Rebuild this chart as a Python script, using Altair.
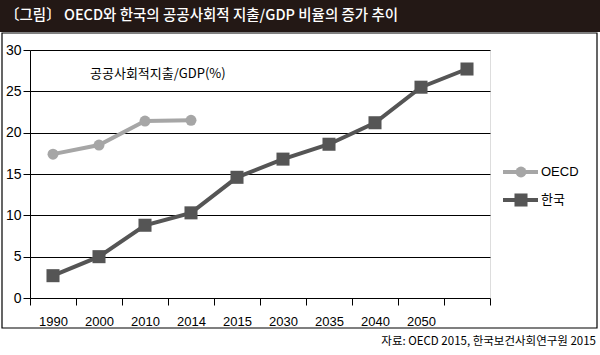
import altair as alt
import pandas as pd

years = ["1990", "2000", "2010", "2014", "2015", "2030", "2035", "2040", "2050", " "]
korea = [2.7, 5.0, 8.8, 10.3, 14.6, 16.8, 18.6, 21.2, 25.5, 27.7]
oecd_years = ["1990", "2000", "2010", "2014"]
oecd = [17.4, 18.5, 21.4, 21.5]
series_names = ["OECD", "한국"]
series_colors = ["#a6a6a6", "#555555"]

title_text = "〔그림〕 OECD와 한국의 공공사회적 지출/GDP 비율의 증가 추이"
annot_text = "공공사회적지출/GDP(%)"
source_text = "자료: OECD 2015, 한국보건사회연구원 2015"

rows = [{"year": y, "value": v, "series": "한국"} for y, v in zip(years, korea)]
rows += [{"year": y, "value": v, "series": "OECD"} for y, v in zip(oecd_years, oecd)]
df = pd.DataFrame(rows)
one = pd.DataFrame({"a": [0]})

KFONT = "Noto Sans CJK KR"
LFONT = "Liberation Sans"

x_enc = alt.X(
    "year:N",
    sort=years,
    scale=alt.Scale(type="band", domain=years, paddingInner=0, paddingOuter=0),
    axis=alt.Axis(
        title=None, domain=False, tickBand="extent", tickSize=7, tickColor="black",
        labelFontSize=13, labelFont=LFONT, labelPadding=10, labelAngle=0,
        labelColor="black", grid=False,
    ),
)
y_enc = alt.Y(
    "value:Q",
    scale=alt.Scale(domain=[0, 30]),
    axis=alt.Axis(
        values=[0, 5, 10, 15, 20, 25, 30], grid=True, gridColor="black", gridWidth=1,
        domainColor="black", tickColor="black", tickSize=7, labelFontSize=14,
        labelFont=LFONT, labelColor="black", labelPadding=2, title=None,
    ),
)
color_enc = alt.Color("series:N", scale=alt.Scale(domain=series_names, range=series_colors), legend=None)

base = alt.Chart(df)
lines = base.mark_line(strokeWidth=4).encode(x=x_enc, y=y_enc, color=color_enc)
points = base.mark_point(filled=True, opacity=1).encode(
    x=x_enc, y=y_enc, color=color_enc,
    shape=alt.Shape("series:N", scale=alt.Scale(domain=series_names, range=["circle", "square"]), legend=None),
    size=alt.Size("series:N", scale=alt.Scale(domain=series_names, range=[120, 170]), legend=None),
)

title_bar = alt.Chart(one).mark_rect(color="#231815").encode(
    x=alt.value(-30), x2=alt.value(570), y=alt.value(-50), y2=alt.value(-18)
)
title_txt = alt.Chart(one).mark_text(
    align="left", baseline="middle", color="white", font=KFONT, fontSize=14.5, fontWeight=500
).encode(x=alt.value(-25), y=alt.value(-34), text=alt.value(title_text))
border = alt.Chart(one).mark_rect(fillOpacity=0, stroke="black", strokeWidth=1.2).encode(
    x=alt.value(-28), x2=alt.value(567), y=alt.value(-17), y2=alt.value(278)
)
annot = alt.Chart(one).mark_text(
    align="left", baseline="middle", color="black", font=KFONT, fontSize=13
).encode(x=alt.value(60), y=alt.value(24), text=alt.value(annot_text))
source = alt.Chart(one).mark_text(
    align="right", baseline="middle", color="black", font=KFONT, fontSize=11.5
).encode(x=alt.value(566), y=alt.value(292), text=alt.value(source_text))

leg = []
for i, (name, col, shp, sz) in enumerate(zip(series_names, series_colors, ["circle", "square"], [120, 170])):
    yy = 122 + 28 * i
    leg.append(alt.Chart(one).mark_rule(color=col, strokeWidth=4).encode(
        x=alt.value(473), x2=alt.value(508), y=alt.value(yy)))
    leg.append(alt.Chart(one).mark_point(shape=shp, filled=True, opacity=1, size=sz, color=col).encode(
        x=alt.value(491), y=alt.value(yy)))
    leg.append(alt.Chart(one).mark_text(
        align="left", baseline="middle", color="black",
        font=LFONT if name == "OECD" else KFONT, fontSize=13).encode(
        x=alt.value(511), y=alt.value(yy), text=alt.value(name)))

chart = alt.layer(title_bar, title_txt, border, lines, points, annot, source, *leg).properties(
    width=460, height=248,
    autosize=alt.AutoSizeParams(type="none"),
    padding={"left": 30, "top": 50, "right": 110, "bottom": 57},
).configure_view(stroke=None).configure(background="white")

chart.save("out.html", embed_options={"renderer": "svg", "actions": False})
